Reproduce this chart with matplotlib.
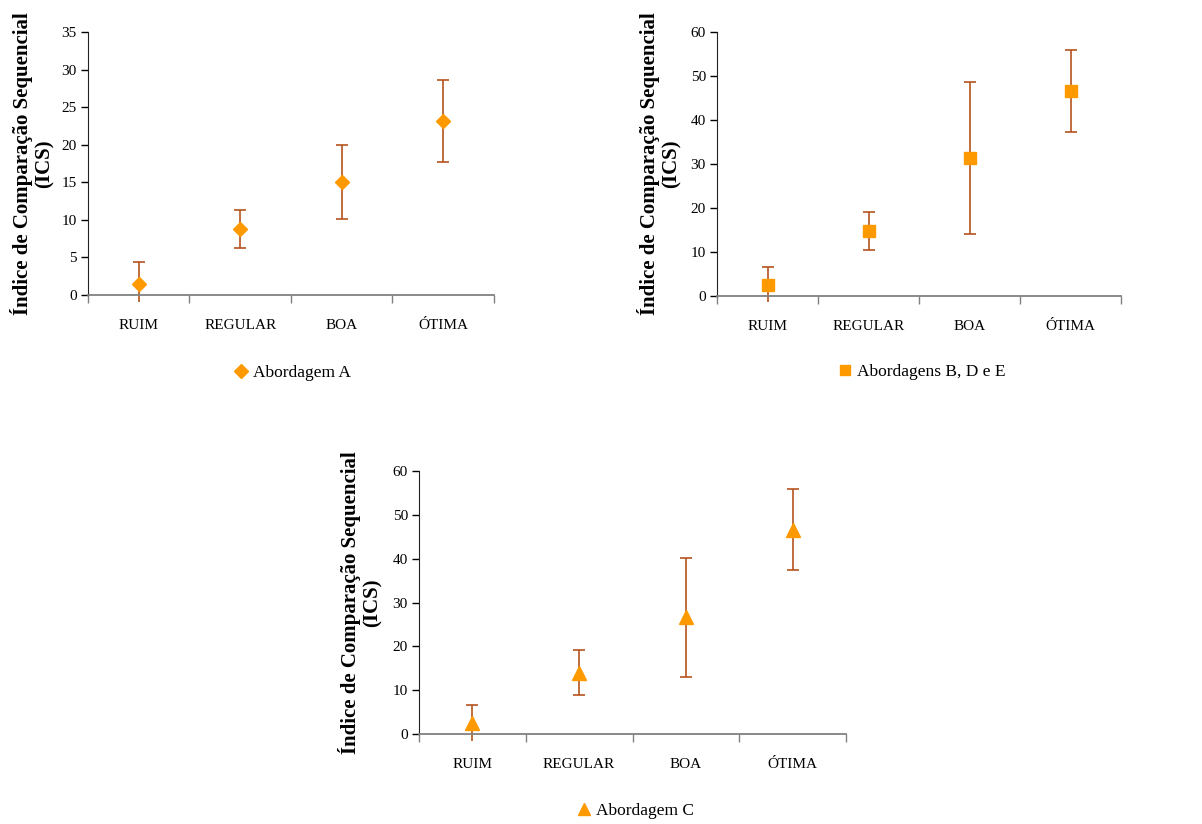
import matplotlib
matplotlib.use("Agg")
import matplotlib.pyplot as plt
from matplotlib.lines import Line2D
from matplotlib.patches import Rectangle

plt.rcParams['font.family'] = ['Liberation Serif', 'DejaVu Serif']

categorias = ["RUIM", "REGULAR", "BOA", "ÓTIMA"]

# médias e desvios do ICS por abordagem
media_a = [1.5, 8.8, 15.05, 23.2]
erro_a = [2.9, 2.5, 4.9, 5.45]

media_bde = [2.6, 14.7, 31.45, 46.6]
erro_bde = [4.0, 4.3, 17.25, 9.3]

media_c = [2.5, 14.0, 26.6, 46.65]
erro_c = [4.2, 5.2, 13.6, 9.25]

LARANJA = "#FF9900"
MARROM = "#B5541E"
W, H = 1202, 824


def eixo(px_esq, px_topo, px_dir, px_base):
    return fig.add_axes([px_esq / W, 1 - px_base / H,
                         (px_dir - px_esq) / W, (px_base - px_topo) / H])


def grafico(ax, medias, erros, marcador, tam, ymax, passo, rotulo, leg_xy, lab_x):
    x = list(range(1, len(categorias) + 1))
    eb = ax.errorbar(x, medias, yerr=erros, fmt='none', ecolor=MARROM,
                     elinewidth=1.2, capsize=4, capthick=1.2, zorder=2)
    # barras podem passar um pouco abaixo do eixo, como as marcas
    clip = Rectangle((0, -0.025), 1, 1.1, transform=ax.transAxes)
    for art in eb.lines[2]:
        art.set_clip_path(clip)
    ax.plot(x, medias, ls='none', marker=marcador, ms=tam, color=LARANJA,
            mec=LARANJA, zorder=3)

    ax.set_xlim(0.5, len(categorias) + 0.5)
    ax.set_ylim(0, ymax)
    ax.set_yticks(range(0, ymax + 1, passo))
    ax.set_xticks([i + 0.5 for i in range(len(categorias) + 1)])
    ax.set_xticklabels([])
    ax.set_xticks(x, minor=True)
    ax.set_xticklabels(categorias, minor=True)
    ax.tick_params(axis='x', which='major', length=6, width=1, color='#808080')
    ax.tick_params(axis='x', which='minor', length=0, pad=17, labelsize=11)
    ax.tick_params(axis='y', length=5, width=1, labelsize=11, pad=3)

    for lado in ("top", "right"):
        ax.spines[lado].set_visible(False)
    ax.spines["left"].set_color("#222222")
    ax.spines["bottom"].set_color("#808080")
    ax.spines["bottom"].set_linewidth(1.3)

    ax.set_ylabel("Índice de Comparação Sequencial\n(ICS)", fontsize=15,
                  fontweight='bold', linespacing=1.15)
    pos = ax.get_position()
    ax.yaxis.set_label_coords(lab_x / W, (pos.y0 + pos.y1) / 2,
                              transform=fig.transFigure)

    h = Line2D([], [], ls='none', marker=marcador, ms=tam * 0.95,
               color=LARANJA, mec=LARANJA)
    ax.legend([h], [rotulo], loc='center', frameon=False, fontsize=12.5,
              handletextpad=0.2, handlelength=1.0,
              bbox_to_anchor=(leg_xy[0] / W, 1 - leg_xy[1] / H),
              bbox_transform=fig.transFigure)


fig = plt.figure(figsize=(12.02, 8.24), dpi=100)

ax1 = eixo(88, 32, 494, 295)
grafico(ax1, media_a, erro_a, 'D', 7, 35, 5, "Abordagem A", (292, 373), 55)

ax2 = eixo(717, 32, 1121, 296)
grafico(ax2, media_bde, erro_bde, 's', 8, 60, 10, "Abordagens B, D e E", (921, 372), 682)

ax3 = eixo(419, 471, 846, 734)
grafico(ax3, media_c, erro_c, '^', 9.5, 60, 10, "Abordagem C", (635, 811), 383)

fig.savefig("out.png", dpi=100)
